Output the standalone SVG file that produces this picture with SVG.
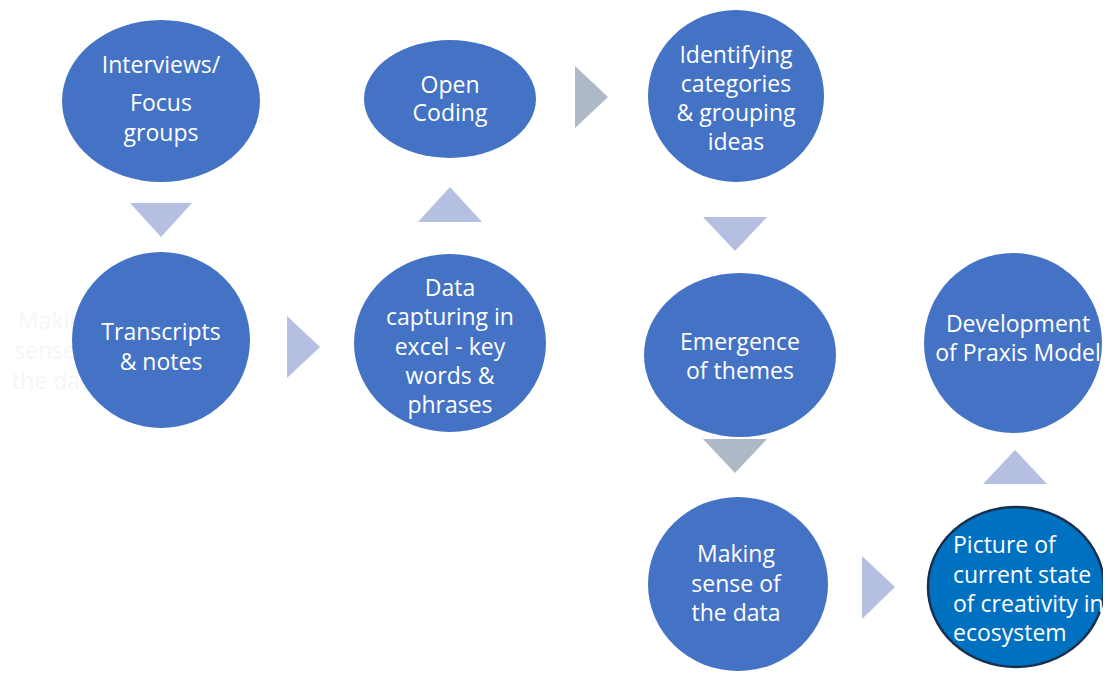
<svg xmlns="http://www.w3.org/2000/svg" width="1110" height="673" viewBox="0 0 1110 673">
  <style>
    .node { fill: #4472c4; }
    .lbl { font-family: "Open Sans", "Noto Sans", sans-serif; font-size: 23px; fill: #ffffff; text-anchor: middle; }
    .lbl-l { text-anchor: start; }
    .arr-b { fill: #b4bfe2; }
    .arr-g { fill: #adb9c6; }
  </style>
  <defs>
    <clipPath id="edge"><rect x="0" y="0" width="1103" height="673"/></clipPath>
  </defs>
  <rect width="1110" height="673" fill="#ffffff"/>

  <!-- faint leftover caption at the left margin -->
  <g font-family="Open Sans, sans-serif" font-size="23" fill="#f5f6fa">
    <text x="18" y="329">Making</text>
    <text x="14" y="359">sense of</text>
    <text x="12" y="389">the data</text>
  </g>

  <g id="connectors">
    <polygon class="arr-b" points="130,203 192,203 161,237"/>
    <polygon class="arr-b" points="287,316 287,378 320,347"/>
    <polygon class="arr-b" points="418,222 482,222 450,187"/>
    <polygon class="arr-g" points="575,66 575,128 608,97"/>
    <polygon class="arr-b" points="703,217 767,217 735,251"/>
    <polygon class="arr-g" points="703,439 767,439 735,473"/>
    <polygon class="arr-b" points="862,556 862,619 895,587"/>
    <polygon class="arr-b" points="983,484 1047,484 1015,450"/>
  </g>

  <g id="n-interviews">
    <ellipse class="node" cx="161" cy="101" rx="99" ry="81"/>
    <text class="lbl" x="161" y="73">Interviews/</text>
    <text class="lbl" x="161" y="111">Focus</text>
    <text class="lbl" x="161" y="141">groups</text>
  </g>

  <g id="n-transcripts">
    <ellipse class="node" cx="161" cy="340" rx="89" ry="88"/>
    <text class="lbl" x="161" y="340">Transcripts</text>
    <text class="lbl" x="161" y="370">&amp; notes</text>
  </g>

  <g id="n-datacapture">
    <ellipse class="node" cx="450" cy="343" rx="96" ry="89"/>
    <text class="lbl" x="450" y="296">Data</text>
    <text class="lbl" x="450" y="325">capturing in</text>
    <text class="lbl" x="450" y="355">excel - key</text>
    <text class="lbl" x="450" y="384">words &amp;</text>
    <text class="lbl" x="450" y="413">phrases</text>
  </g>

  <g id="n-opencoding">
    <ellipse class="node" cx="450" cy="99" rx="86" ry="59"/>
    <text class="lbl" x="450" y="93">Open</text>
    <text class="lbl" x="450" y="121">Coding</text>
  </g>

  <g id="n-categories">
    <ellipse class="node" cx="736" cy="96" rx="88" ry="86"/>
    <text class="lbl" x="736" y="63">Identifying</text>
    <text class="lbl" x="736" y="92">categories</text>
    <text class="lbl" x="736" y="121">&amp; grouping</text>
    <text class="lbl" x="736" y="150">ideas</text>
  </g>

  <g id="n-themes">
    <ellipse class="node" cx="740" cy="355" rx="96" ry="82"/>
    <text class="lbl" x="740" y="350">Emergence</text>
    <text class="lbl" x="740" y="379">of themes</text>
  </g>

  <g id="n-sense">
    <ellipse class="node" cx="738" cy="584" rx="90" ry="87"/>
    <text class="lbl" x="736" y="562">Making</text>
    <text class="lbl" x="736" y="592">sense of</text>
    <text class="lbl" x="736" y="621">the data</text>
  </g>

  <g id="n-picture" clip-path="url(#edge)">
    <ellipse cx="1016" cy="587" rx="88" ry="80" fill="#0070c0" stroke="#17304f" stroke-width="2.5"/>
    <text class="lbl lbl-l" x="953" y="553">Picture of</text>
    <text class="lbl lbl-l" x="953" y="583">current state</text>
    <text class="lbl lbl-l" x="953" y="612">of creativity in</text>
    <text class="lbl lbl-l" x="953" y="641">ecosystem</text>
  </g>

  <g id="n-praxis" clip-path="url(#edge)">
    <ellipse class="node" cx="1013" cy="343" rx="89" ry="90"/>
    <text class="lbl" x="1018" y="332">Development</text>
    <text class="lbl" x="1018" y="361">of Praxis Model</text>
  </g>
</svg>
